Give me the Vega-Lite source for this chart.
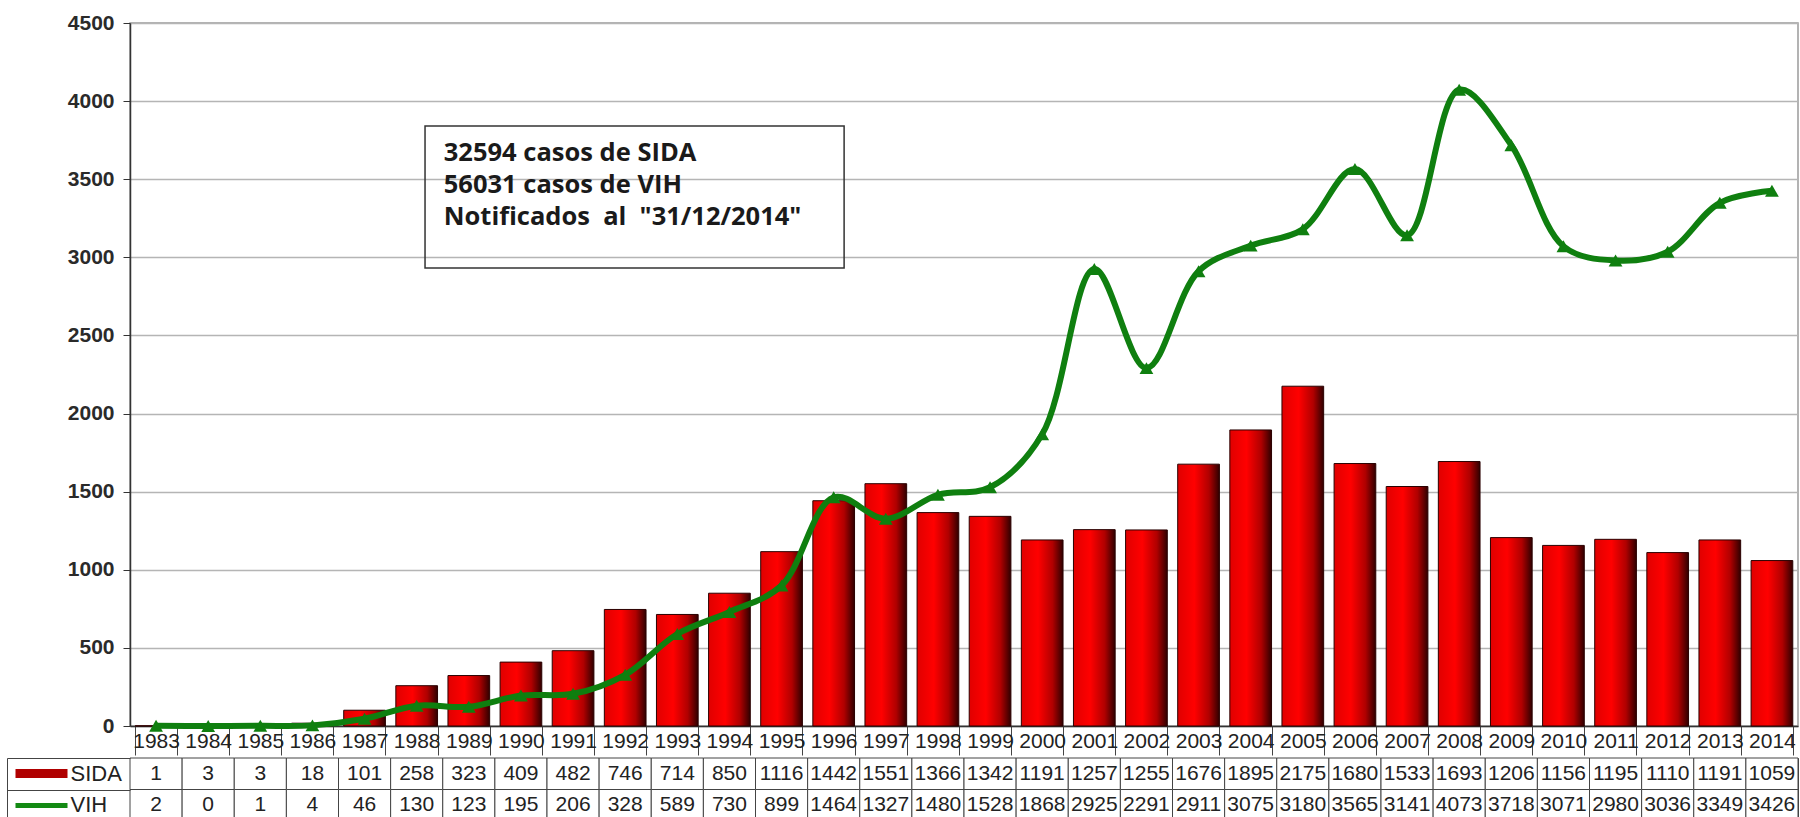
{
  "$schema": "https://vega.github.io/schema/vega-lite/v6.json",
  "background": "white",
  "padding": {"left": 6, "top": 11, "right": 0, "bottom": 0},
  "config": {
    "view": {"stroke": "#9a9a9a", "strokeWidth": 1.5},
    "font": "Liberation Sans"
  },
  "datasets": {
    "casos": [
      {"year": "1983", "SIDA": 1, "VIH": 2},
      {"year": "1984", "SIDA": 3, "VIH": 0},
      {"year": "1985", "SIDA": 3, "VIH": 1},
      {"year": "1986", "SIDA": 18, "VIH": 4},
      {"year": "1987", "SIDA": 101, "VIH": 46},
      {"year": "1988", "SIDA": 258, "VIH": 130},
      {"year": "1989", "SIDA": 323, "VIH": 123},
      {"year": "1990", "SIDA": 409, "VIH": 195},
      {"year": "1991", "SIDA": 482, "VIH": 206},
      {"year": "1992", "SIDA": 746, "VIH": 328},
      {"year": "1993", "SIDA": 714, "VIH": 589},
      {"year": "1994", "SIDA": 850, "VIH": 730},
      {"year": "1995", "SIDA": 1116, "VIH": 899},
      {"year": "1996", "SIDA": 1442, "VIH": 1464},
      {"year": "1997", "SIDA": 1551, "VIH": 1327},
      {"year": "1998", "SIDA": 1366, "VIH": 1480},
      {"year": "1999", "SIDA": 1342, "VIH": 1528},
      {"year": "2000", "SIDA": 1191, "VIH": 1868},
      {"year": "2001", "SIDA": 1257, "VIH": 2925},
      {"year": "2002", "SIDA": 1255, "VIH": 2291},
      {"year": "2003", "SIDA": 1676, "VIH": 2911},
      {"year": "2004", "SIDA": 1895, "VIH": 3075},
      {"year": "2005", "SIDA": 2175, "VIH": 3180},
      {"year": "2006", "SIDA": 1680, "VIH": 3565},
      {"year": "2007", "SIDA": 1533, "VIH": 3141},
      {"year": "2008", "SIDA": 1693, "VIH": 4073},
      {"year": "2009", "SIDA": 1206, "VIH": 3718},
      {"year": "2010", "SIDA": 1156, "VIH": 3071},
      {"year": "2011", "SIDA": 1195, "VIH": 2980},
      {"year": "2012", "SIDA": 1110, "VIH": 3036},
      {"year": "2013", "SIDA": 1191, "VIH": 3349},
      {"year": "2014", "SIDA": 1059, "VIH": 3426}
    ]
  },
  "data": {"name": "casos"},
  "spacing": 0,
  "resolve": {"scale": {"x": "independent", "y": "independent"}},
  "vconcat": [
    {
      "width": 1668,
      "height": 703,
      "resolve": {"scale": {"x": "independent"}},
      "layer": [
        {
          "encoding": {
            "x": {
              "field": "year",
              "type": "ordinal",
              "title": null,
              "scale": {"paddingInner": 0.2, "paddingOuter": 0.1},
              "axis": {
                "title": null,
                "domain": true,
                "domainColor": "#333",
                "domainWidth": 1.5,
                "ticks": true,
                "tickBand": "extent",
                "tickSize": 29,
                "tickColor": "#444",
                "tickWidth": 1,
                "labels": true,
                "labelAngle": 0,
                "labelOverlap": false,
                "labelPadding": -14,
                "labelBaseline": "middle",
                "labelFontSize": 21,
                "labelColor": "#222",
                "labelFont": "Liberation Sans",
                "grid": false
              }
            }
          },
          "layer": [
            {
              "mark": {
                "type": "bar",
                "fill": {
                  "gradient": "linear",
                  "x1": 0, "y1": 0, "x2": 1, "y2": 0,
                  "stops": [
                    {"offset": 0, "color": "#e00000"},
                    {"offset": 0.4, "color": "#ff0000"},
                    {"offset": 0.75, "color": "#b00000"},
                    {"offset": 1, "color": "#300000"}
                  ]
                },
                "stroke": "#2a0000",
                "strokeWidth": 1
              },
              "encoding": {
                "y": {
                  "field": "SIDA",
                  "type": "quantitative",
                  "title": null,
                  "scale": {"domain": [0, 4500], "nice": false},
                  "axis": {
                    "title": null,
                    "values": [0, 500, 1000, 1500, 2000, 2500, 3000, 3500, 4000, 4500],
                    "format": "d",
                    "domain": true,
                    "domainColor": "#333",
                    "domainWidth": 1.5,
                    "ticks": true,
                    "tickSize": 7,
                    "tickColor": "#333",
                    "labelFontSize": 21,
                    "labelFontWeight": "bold",
                    "labelFont": "Liberation Sans",
                    "labelColor": "#2a2a2a",
                    "labelPadding": 9,
                    "grid": true,
                    "gridColor": "#b5b5b5",
                    "gridWidth": 1.5
                  }
                }
              }
            },
            {
              "mark": {"type": "line", "interpolate": "catmull-rom", "color": "#0f7f0f", "strokeWidth": 6},
              "encoding": {
                "y": {"field": "VIH", "type": "quantitative", "title": null}
              }
            },
            {
              "mark": {"type": "point", "shape": "triangle-up", "filled": true, "color": "#0f7f0f", "size": 190, "opacity": 1},
              "encoding": {
                "y": {"field": "VIH", "type": "quantitative", "title": null}
              }
            }
          ]
        },
        {
          "layer": [
            {
              "data": {"values": [{"x1": 5.66, "x2": 13.70, "top": 3841, "bot": 2932}]},
              "mark": {"type": "rect", "filled": false, "stroke": "#333", "strokeWidth": 1.5},
              "encoding": {
                "x": {"field": "x1", "type": "quantitative", "scale": {"domain": [0, 32], "nice": false, "zero": false}, "axis": null},
                "x2": {"field": "x2"},
                "y": {"field": "top", "type": "quantitative", "title": null},
                "y2": {"field": "bot"}
              }
            },
            {
              "data": {"values": [
                {"t": "32594 casos de SIDA", "x": 6.02, "y": 3668},
                {"t": "56031 casos de VIH", "x": 6.02, "y": 3463},
                {"t": "Notificados\u00a0\u00a0al\u00a0\u00a0\"31/12/2014\"", "x": 6.02, "y": 3258}
              ]},
              "mark": {"type": "text", "align": "left", "baseline": "middle", "font": "Open Sans", "fontWeight": "bold", "fontSize": 25.5, "color": "#1a1a1a"},
              "encoding": {
                "x": {"field": "x", "type": "quantitative", "scale": {"domain": [0, 32], "nice": false, "zero": false}, "axis": null},
                "y": {"field": "y", "type": "quantitative", "title": null},
                "text": {"field": "t"}
              }
            }
          ]
        }
      ]
    },
    {
      "width": 1668,
      "height": 63,
      "view": {"stroke": "#444", "strokeWidth": 1},
      "transform": [{"fold": ["SIDA", "VIH"], "as": ["serie", "value"]}],
      "resolve": {"axis": {"y": "independent"}},
      "layer": [
        {
          "mark": {"type": "rect", "fill": "white", "stroke": "#444", "strokeWidth": 1},
          "encoding": {
            "x": {"field": "year", "type": "ordinal", "scale": {"paddingInner": 0, "paddingOuter": 0}, "axis": null},
            "y": {
              "field": "serie", "type": "nominal",
              "scale": {"domain": ["SIDA", "VIH"], "paddingInner": 0, "paddingOuter": 0},
              "axis": {
                "orient": "left", "offset": 0, "title": null,
                "domain": false, "labels": false, "grid": false,
                "ticks": true, "tickBand": "extent", "tickSize": 123, "tickColor": "#444", "tickWidth": 1
              }
            }
          }
        },
        {
          "transform": [{"filter": "datum.serie === 'SIDA'"}],
          "mark": {"type": "text", "fontSize": 21, "color": "#222", "font": "Liberation Sans"},
          "encoding": {
            "x": {"field": "year", "type": "ordinal", "axis": null},
            "y": {
              "field": "serie", "type": "nominal",
              "axis": {
                "orient": "left", "offset": 123, "title": null,
                "domain": true, "domainColor": "#444", "domainWidth": 1,
                "ticks": false, "tickSize": 0, "grid": false,
                "labels": true, "labelAlign": "left", "labelPadding": -63,
                "labelFontSize": 22, "labelColor": "#222", "labelFont": "Liberation Sans"
              }
            },
            "text": {"field": "value", "type": "quantitative"}
          }
        },
        {
          "transform": [{"filter": "datum.serie === 'VIH'"}],
          "mark": {"type": "text", "fontSize": 21, "color": "#222", "font": "Liberation Sans"},
          "encoding": {
            "x": {"field": "year", "type": "ordinal", "axis": null},
            "y": {
              "field": "serie", "type": "nominal",
              "axis": {
                "orient": "left", "offset": 63, "title": null,
                "domain": false, "labels": false, "grid": false,
                "ticks": true, "tickSize": 52,
                "tickColor": {"condition": {"test": "datum.value === 'SIDA'", "value": "#b00000"}, "value": "#138a13"},
                "tickWidth": {"condition": {"test": "datum.value === 'SIDA'", "value": 9}, "value": 5},
                "tickCap": "butt"
              }
            },
            "text": {"field": "value", "type": "quantitative"}
          }
        }
      ]
    }
  ]
}
